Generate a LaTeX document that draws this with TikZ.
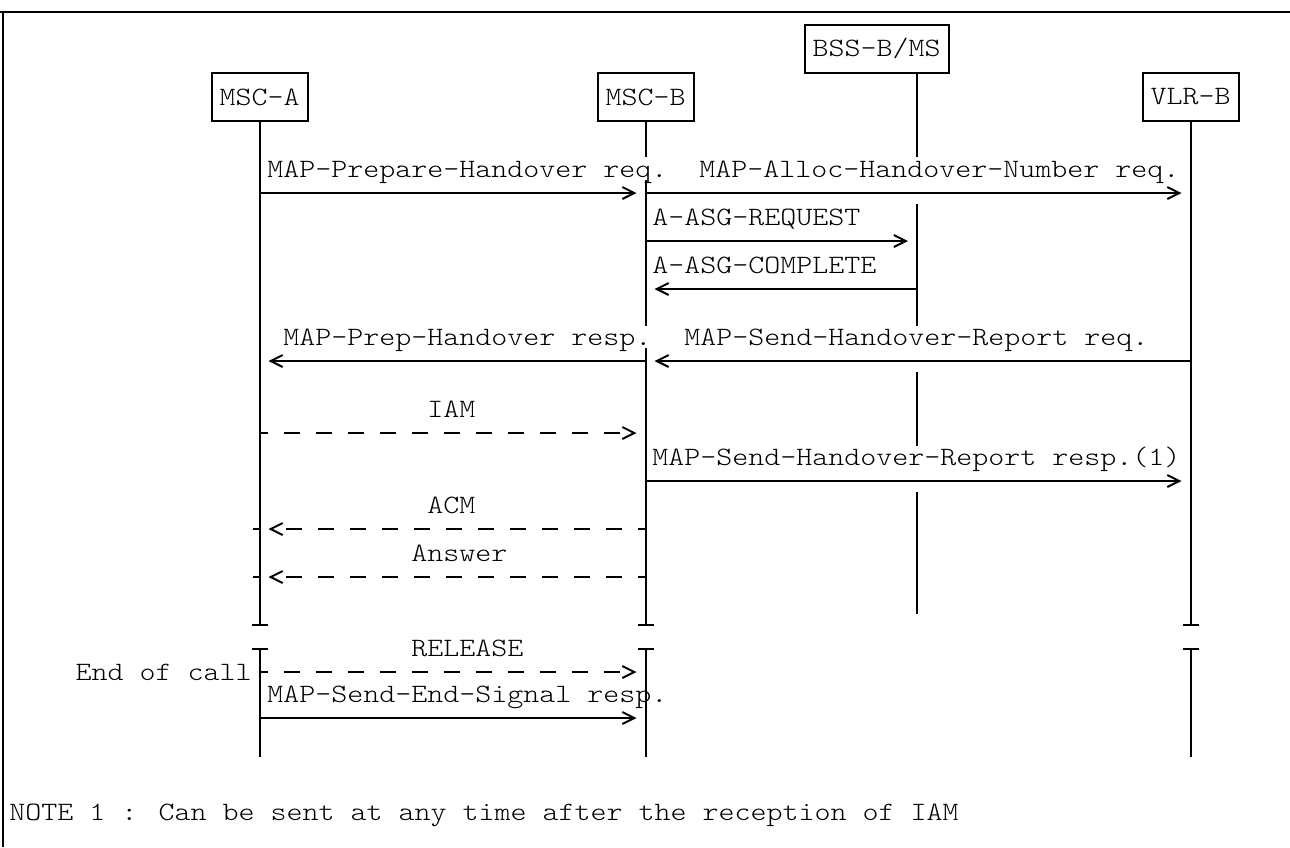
\documentclass[tikz,border=0pt]{standalone}
\usepackage{fontspec}
\setmainfont{Latin Modern Mono Light}[FakeStretch=1.15]
\usetikzlibrary{arrows.meta,positioning,calc}

\begin{document}
\begin{tikzpicture}[x=0.5pt,y=-0.5pt,>={Straight Barb[length=6pt,width=6pt]},
            font=\fontsize{13.25}{16}\selectfont,
            actor node/.style={draw,line width=1pt,inner xsep=4pt,inner ysep=0pt,
             minimum height=24pt},
            life/.style={line width=1pt},
            msg/.style={->,line width=1pt,shorten >=4.5pt},
            dmsg/.style={msg,dash pattern=on 8pt off 8pt,dash phase=4pt},
            lbl/.style={anchor=base west,inner sep=0pt}]

            \useasboundingbox (0,0) rectangle (1290,847);
            % frame
            \draw[line width=1.4pt] (0,12) -- (1290,12);
            \draw[line width=1.4pt] (3,12) -- (3,847);

            \node[actor node] (MSCA) at (259.5,97) {MSC-A};
            \node[actor node] (MSCB) [right=144pt of MSCA] {MSC-B};
            \node[actor node] (VLRB) [right=223.5pt of MSCB] {VLR-B};
            \node[actor node] (BSS) at (876.5,48.5) {BSS-B/MS};
            \coordinate (BSSl) at (917,73);

            % rows
            \coordinate (r1) at (0,193);
            \coordinate (r2) at (0,241);
            \coordinate (r3) at (0,289);
            \coordinate (r4) at (0,361);
            \coordinate (r5) at (0,433);
            \coordinate (r6) at (0,481);
            \coordinate (r7) at (0,529);
            \coordinate (r8) at (0,577);
            \coordinate (brk1) at (0,625);
            \coordinate (brk2) at (0,649);
            \coordinate (r9) at (0,672);
            \coordinate (r10) at (0,718);
            \coordinate (lend) at (0,757);

            % life lines
            \draw[life] (MSCA.south) -- (MSCA.south |- brk1);
            \draw[life] (VLRB.south) -- (VLRB.south |- brk1);
            \draw[life] (MSCB.south) -- (MSCB.south |- 0,157)
                        (MSCB.south |- 0,180) -- (MSCB.south |- 0,326)
                        (MSCB.south |- 0,348) -- (MSCB.south |- brk1);
            \draw[life] (BSSl) -- (BSSl |- 0,157)
                        (BSSl |- 0,204) -- (BSSl |- 0,326)
                        (BSSl |- 0,372) -- (BSSl |- 0,446)
                        (BSSl |- 0,492) -- (BSSl |- 0,614);
            \foreach \n in {MSCA,MSCB,VLRB}{
              \draw[life] (\n.south |- brk1) ++(-8,0) -- ++(16,0);
              \draw[life] (\n.south |- brk2) ++(-8,0) -- ++(16,0);
              \draw[life] (\n.south |- brk2) -- (\n.south |- lend);
            }

            % messages
            \path[msg]
              (MSCA |- r1) edge (MSCB |- r1)
              (MSCB |- r1) edge (VLRB |- r1)
              (MSCB |- r2) edge (BSSl |- r2)
              (BSSl |- r3) edge (MSCB |- r3)
              (MSCB |- r4) edge (MSCA |- r4)
              (VLRB |- r4) edge (MSCB |- r4)
              (MSCB |- r6) edge (VLRB |- r6)
              (MSCA |- r10) edge (MSCB |- r10);

            \path[dmsg]
              (MSCA |- r5) edge (MSCB |- r5)
              (MSCB |- r7) edge (MSCA |- r7)
              (MSCB |- r8) edge (MSCA |- r8)
              (MSCA |- r9) edge (MSCB |- r9);

            \draw[life] (MSCA |- r7) -- ++(-7,0);
            \draw[life] (MSCA |- r8) -- ++(-7,0);

            % labels
            \node[lbl] (l1) at (267,177) {MAP-Prepare-Handover req.};
            \node[lbl] (l2) at (699,177) {MAP-Alloc-Handover-Number req.};
            \node[lbl] (l3) at (652,225) {A-ASG-REQUEST};
            \node[lbl] (l4) at (652,273) {A-ASG-COMPLETE};
            \node[lbl] (l5) at (283,345) {MAP-Prep-Handover resp.};
            \node[lbl] (l6) at (684,345) {MAP-Send-Handover-Report req.};
            \node[lbl] (l7) at (427,417) {IAM};
            \node[lbl] (l8) at (652,465) {MAP-Send-Handover-Report resp.(1)};
            \node[lbl] (l9) at (427,513) {ACM};
            \node[lbl] (l10) at (411,561) {Answer};
            \node[lbl] (l11) at (411,656) {RELEASE};
            \node[lbl,anchor=base east] (l12) at (252,680) {End of call};
            \node[lbl] (l13) at (267,702) {MAP-Send-End-Signal resp.};
            \node[lbl] (note) at (9,820) {NOTE 1 : Can be sent at any time after the reception of IAM};

\end{tikzpicture}
\end{document}
